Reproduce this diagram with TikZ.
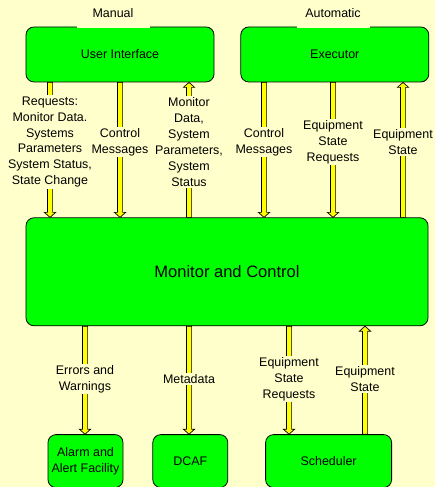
\documentclass[tikz,border=0pt]{standalone}
\usepackage{fontspec}
\setmainfont{Liberation Sans}
\usetikzlibrary{positioning,calc}
\pgfdeclarelayer{flows}
\pgfsetlayers{flows,main}
\definecolor{paper}{HTML}{FFFFCC}
\definecolor{unit}{HTML}{00FF00}
\definecolor{pipe}{HTML}{FFFF00}

\begin{document}
\begin{tikzpicture}[x=1bp,y=1bp,font=\fontsize{12.5}{16}\selectfont,
    block/.style={rectangle,draw=black,fill=unit,line width=0.8bp,rounded corners=8bp,align=center},
    tag/.style={fill=paper,align=center,inner sep=1.5bp},
    flow/.style={draw=black,fill=pipe,line width=0.7bp,line join=miter,
      to path={let \p1=(\tikztostart), \p2=(\tikztotarget),
        \n1={atan2(\y2-\y1,\x2-\x1)}, \p3=($(\p2)!5bp!(\p1)$) in
        ($(\p1)+({\n1+90}:2.6bp)$) -- ($(\p3)+({\n1+90}:2.6bp)$) -- ($(\p3)+({\n1+90}:5.6bp)$)
        -- (\p2) -- ($(\p3)+({\n1-90}:5.6bp)$) -- ($(\p3)+({\n1-90}:2.6bp)$)
        -- ($(\p1)+({\n1-90}:2.6bp)$) -- cycle}}]
    \useasboundingbox (0,0) rectangle (435,487);
    \begin{pgfonlayer}{flows}
    \fill[paper] (0,0) rectangle (435,487);
    \end{pgfonlayer}

    % units
    \node[block,minimum width=188bp,minimum height=55bp] (ui) at (120,432.5) {User Interface};
    \node[block,minimum width=188bp,minimum height=55bp,right=26bp of ui] (exec) {Executor};
    \node[block,minimum width=402bp,minimum height=108bp,font=\fontsize{16.6}{20}\selectfont,
          below right=135bp and 0bp of ui.south west] (mc) {Monitor and Control};
    \node[block,minimum width=75bp,minimum height=53bp,
          below right=108bp and 22bp of mc.south west] (alarm) {Alarm and\\Alert Facility};
    \node[block,minimum width=75bp,minimum height=53bp,right=29bp of alarm] (dcaf) {DCAF};
    \node[block,minimum width=126bp,minimum height=53bp,right=37bp of dcaf] (sched) {Scheduler};

    \node[fill=paper,minimum width=73bp,minimum height=31bp] (manual) at (113,474) {Manual};
    \node[fill=paper,minimum width=73bp,minimum height=31bp] (auto) at (333,474) {Automatic};

    % labels on the flows
    \node[tag] (req) at (50,345) {Requests:\\Monitor Data.\\Systems\\Parameters\\System Status,\\State Change};
    \node[tag] (ctl) at (120,345) {Control\\Messages};
    \node[tag] (mon) at (189,345) {Monitor\\Data,\\System\\Parameters,\\System\\Status};
    \node[tag] (ectl) at (264,345) {Control\\Messages};
    \node[tag] (esr) at (333,345) {Equipment\\State\\Requests};
    \node[tag] (est) at (403,345) {Equipment\\State};
    \node[tag] (err) at (85,108) {Errors and\\Warnings};
    \node[tag] (meta) at (189,108) {Metadata};
    \node[tag] (sesr) at (289,108) {Equipment\\State\\Requests};
    \node[tag] (sest) at (365,108) {Equipment\\State};

    \begin{pgfonlayer}{flows}
    \draw[flow] (ui.south -| req) to (mc.north -| req);
    \draw[flow] (ui.south -| ctl) to (mc.north -| ctl);
    \draw[flow] (mc.north -| mon) to (ui.south -| mon);
    \draw[flow] (exec.south -| ectl) to (mc.north -| ectl);
    \draw[flow] (exec.south -| esr) to (mc.north -| esr);
    \draw[flow] (mc.north -| est) to (exec.south -| est);
    \draw[flow] (mc.south -| err) to (alarm.north -| err);
    \draw[flow] (mc.south -| meta) to (dcaf.north -| meta);
    \draw[flow] (mc.south -| sesr) to (sched.north -| sesr);
    \draw[flow] (sched.north -| sest) to (mc.south -| sest);
    \end{pgfonlayer}
\end{tikzpicture}
\end{document}
